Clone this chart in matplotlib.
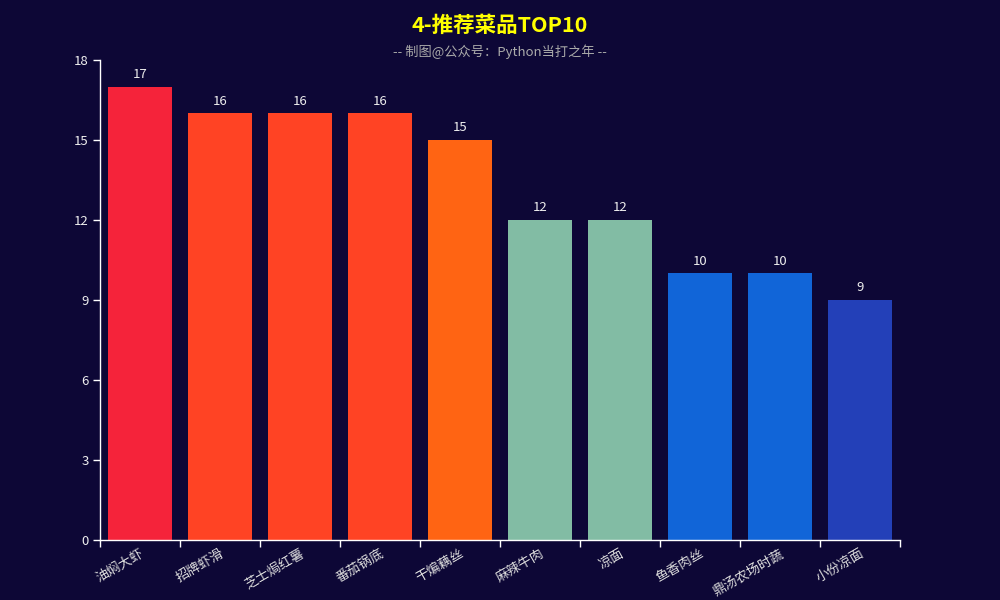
import numpy as np
import matplotlib
matplotlib.use('Agg')
import matplotlib.pyplot as plt
from matplotlib.ticker import FixedLocator, MultipleLocator

plt.rcParams['font.family'] = ['Noto Sans CJK SC', 'DejaVu Sans']
plt.rcParams['axes.unicode_minus'] = False

# ── 数据 ──────────────────────────────────────────
dishes = ['油焖大虾', '招牌虾滑', '芝士焗红薯', '番茄锅底', '干煸藕丝',
          '麻辣牛肉', '凉面', '鱼香肉丝', '鼎汤农场时蔬', '小份凉面']
counts = [17, 16, 16, 16, 15, 12, 12, 10, 10, 9]
colors = ['#f5233a', '#ff4324', '#ff4324', '#ff4324', '#ff6413',
          '#82bca4', '#82bca4', '#1165d8', '#1165d8', '#2340b8']

BG = '#0d0736'
TXT = '#eeeeee'

fig = plt.figure(figsize=(10, 6), dpi=100, facecolor=BG)
ax = fig.add_axes([0.1, 0.1, 0.8, 0.8])
ax.set_facecolor(BG)

x = np.arange(len(dishes))
ax.bar(x, counts, width=0.8, color=colors, zorder=2)

for xi, v in zip(x, counts):
    ax.annotate(str(v), xy=(xi, v), xytext=(0, 4), textcoords='offset points',
                ha='center', va='bottom', color=TXT, fontsize=9.5)

ax.set_xlim(-0.5, len(dishes) - 0.5)
ax.set_ylim(0, 18)
ax.yaxis.set_major_locator(MultipleLocator(3))

# 刻度线在类目边界，标签在柱子中心
ax.set_xticks(x)
ax.set_xticklabels(dishes, rotation=30, ha='right', rotation_mode='anchor',
                   color='#dddddd', fontsize=9.5)
ax.xaxis.set_minor_locator(FixedLocator(np.arange(len(dishes) + 1) - 0.5))
ax.tick_params(axis='x', which='major', length=0, pad=5)
ax.tick_params(axis='x', which='minor', length=5, color='white', width=1)
ax.tick_params(axis='y', length=5, color='white', width=1, labelcolor=TXT,
               labelsize=9.5, pad=3)

for s in ['top', 'right']:
    ax.spines[s].set_visible(False)
for s in ['left', 'bottom']:
    ax.spines[s].set_color('white')
    ax.spines[s].set_linewidth(1)

fig.text(0.5, 0.958, '4-推荐菜品TOP10', ha='center', va='center',
         color='#ffff00', fontsize=15.5, fontweight='bold')
fig.text(0.5, 0.913, '-- 制图@公众号：Python当打之年 --', ha='center', va='center',
         color='#aaaaaa', fontsize=9.5)

fig.savefig('out.png', dpi=100, facecolor=fig.get_facecolor())
